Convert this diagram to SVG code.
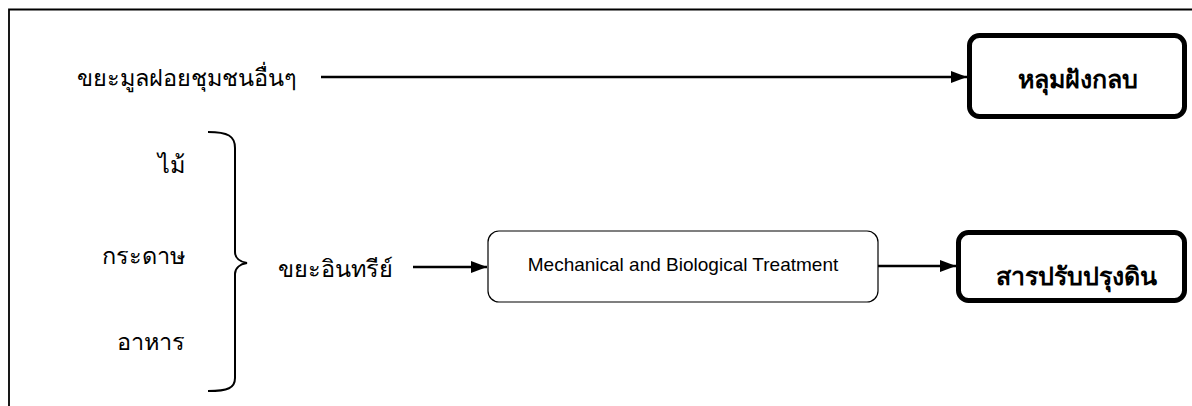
<svg xmlns="http://www.w3.org/2000/svg" width="1192" height="406" viewBox="0 0 1192 406">
<style>
.th{font-family:"Noto Sans","DejaVu Sans","Liberation Sans",sans-serif;font-size:23.5px;fill:#000}
.thb{font-family:"Noto Sans","DejaVu Sans","Liberation Sans",sans-serif;font-size:25px;font-weight:bold;fill:#000}
.en{font-family:"Liberation Sans",Arial,sans-serif;font-size:19px;fill:#000}
.line{stroke:#000;stroke-width:2.5;fill:none}
.thick{fill:#fff;stroke:#000;stroke-width:5}
.thin{fill:#fff;stroke:#000;stroke-width:1.2}
</style>
<defs>
<marker id="ah" markerWidth="16" markerHeight="12" refX="16" refY="6" orient="auto" markerUnits="userSpaceOnUse">
<path d="M0,0 L16,6 L0,12 Z" fill="#000"/>
</marker>
</defs>
<g id="frame">
<path d="M9,406 V9.5 H1192" fill="none" stroke="#000" stroke-width="1.8"/>
</g>
<g id="node-msw"><text class="th" x="77" y="86">ขยะมูลฝอยชุมชนอื่นๆ</text></g>
<g id="node-landfill">
<rect class="thick" x="969.5" y="35.5" width="215" height="81" rx="10"/>
<text class="thb" x="1078" y="88" text-anchor="middle">หลุมฝังกลบ</text>
</g>
<g id="node-wood"><text class="th" x="185" y="173" text-anchor="end">ไม้</text></g>
<g id="node-paper"><text class="th" x="185" y="264" text-anchor="end">กระดาษ</text></g>
<g id="node-food"><text class="th" x="185" y="350" text-anchor="end">อาหาร</text></g>
<g id="brace">
<path d="M208,132 C228,132 235,136 235,148 V252 C235,258 240,262 247,263 C240,264 235,268 235,274 V378 C235,388 228,391 208,391" fill="none" stroke="#000" stroke-width="2"/>
</g>
<g id="node-organic"><text class="th" x="278" y="277">ขยะอินทรีย์</text></g>
<g id="node-mbt">
<rect class="thin" x="488" y="231" width="390" height="71" rx="11"/>
<text class="en" x="683" y="271" text-anchor="middle">Mechanical and Biological Treatment</text>
</g>
<g id="node-soil">
<rect class="thick" x="958.5" y="232.5" width="226" height="68" rx="10"/>
<text class="thb" x="1076" y="285" text-anchor="middle">สารปรับปรุงดิน</text>
</g>
<g id="connectors">
<line class="line" x1="321" y1="77" x2="967" y2="77" marker-end="url(#ah)"/>
<line class="line" x1="413" y1="267" x2="487" y2="267" marker-end="url(#ah)"/>
<line class="line" x1="878" y1="266" x2="956" y2="266" marker-end="url(#ah)"/>
</g>
</svg>
